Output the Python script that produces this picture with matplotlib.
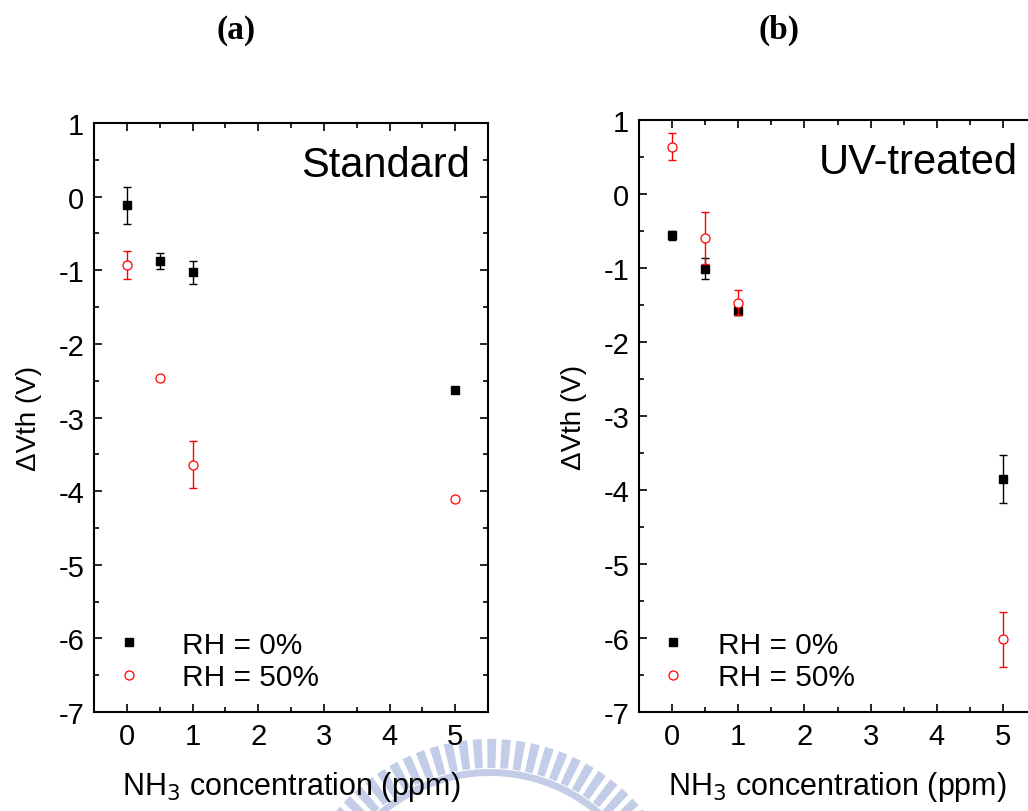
# NH3 濃度と ΔVth の関係 (Standard / UV-treated)

import numpy as np
import matplotlib
matplotlib.use("Agg")
import matplotlib.pyplot as plt
from matplotlib.patches import Wedge
from matplotlib.ticker import MultipleLocator

plt.rcParams['font.family'] = ['Liberation Sans', 'DejaVu Sans']
plt.rcParams['axes.unicode_minus'] = False

# データ
conc = [0, 0.5, 1, 5]                          # NH3 濃度 [ppm]

std_rh0 = [-0.12, -0.87, -1.03, -2.62]         # Standard, RH = 0%
std_rh0_err = [0.25, 0.11, 0.15, 0.04]
std_rh50 = [-0.93, -2.46, -3.64, -4.11]        # Standard, RH = 50%
std_rh50_err = [0.19, 0.03, 0.32, 0.02]

uv_rh0 = [-0.56, -1.01, -1.58, -3.85]          # UV-treated, RH = 0%
uv_rh0_err = [0.06, 0.14, 0.06, 0.32]
uv_rh50 = [0.64, -0.59, -1.47, -6.02]          # UV-treated, RH = 50%
uv_rh50_err = [0.18, 0.35, 0.17, 0.37]

panel_titles = ["(a)", "(b)"]
panel_names = ["Standard", "UV-treated"]
legend_labels = ["RH = 0%", "RH = 50%"]

W, H = 1028, 812


def draw_watermark(fig):
    """背景のすかし (薄い青の縞模様)"""
    wax = fig.add_axes([0, 0, 1, 1], zorder=-1)
    wax.set_xlim(0, W)
    wax.set_ylim(0, H)
    wax.axis("off")
    col = "#c3cde7"
    cx, cy = 490, H - 940
    for a in np.arange(0, 360, 4.2):
        wax.add_patch(Wedge((cx, cy), 200, a, a + 2.6, width=29, color=col, lw=0))
    wax.add_patch(Wedge((cx, cy), 170, 0, 360, width=7, color=col, lw=0))


def style_axes(ax):
    ax.set_xlim(-0.5, 5.5)
    ax.set_ylim(-7, 1)
    ax.xaxis.set_major_locator(MultipleLocator(1))
    ax.xaxis.set_minor_locator(MultipleLocator(0.5))
    ax.yaxis.set_major_locator(MultipleLocator(1))
    ax.yaxis.set_minor_locator(MultipleLocator(0.5))
    ax.tick_params(which="both", direction="in", top=True, right=True, width=1.2)
    ax.tick_params(which="major", length=6, labelsize=21, pad=7)
    ax.tick_params(which="minor", length=3.6)
    for s in ax.spines.values():
        s.set_linewidth(1.5)
    ax.set_xlabel("NH$_3$ concentration (ppm)", fontsize=22, labelpad=14)
    ax.set_ylabel("\u0394Vth (V)", fontsize=20, labelpad=12)


def plot_panel(ax, y0, e0, y50, e50):
    ax.errorbar(conc, y0, yerr=e0, fmt="none", ecolor="black",
                elinewidth=1, capsize=3.2, capthick=1)
    ax.plot(conc, y0, "s", color="black", ms=6, label=legend_labels[0])
    ax.errorbar(conc, y50, yerr=e50, fmt="none", ecolor="red",
                elinewidth=1, capsize=3.2, capthick=1)
    ax.plot(conc, y50, "o", mfc="white", mec="red", mew=0.9, ms=6.5,
            label=legend_labels[1])


def main():
    fig = plt.figure(figsize=(W / 100, H / 100), dpi=100)
    draw_watermark(fig)

    ax1 = fig.add_axes([94 / W, 0.1219, 394 / W, 589 / H])
    ax2 = fig.add_axes([639 / W, 0.1219, 397 / W, 592 / H])

    plot_panel(ax1, std_rh0, std_rh0_err, std_rh50, std_rh50_err)
    plot_panel(ax2, uv_rh0, uv_rh0_err, uv_rh50, uv_rh50_err)

    for ax, name, tpad, xa in [(ax1, panel_names[0], 1.27, 0.051),
                               (ax2, panel_names[1], 1.0, 0.048)]:
        style_axes(ax)
        ax.text(0.955, 0.91, name, transform=ax.transAxes, ha="right",
                va="baseline", fontsize=30)
        ax.legend(loc="lower left", bbox_to_anchor=(xa, 0.035), frameon=False,
                  fontsize=21.5, handlelength=1.0, handletextpad=tpad,
                  borderpad=0, borderaxespad=0, labelspacing=0.15, numpoints=1)

    # パネル記号
    for label, px in zip(panel_titles, [236, 779]):
        fig.text(px / W, 1 - 30 / H, label, ha="center", va="center",
                 fontsize=24, fontweight="bold", family="Liberation Serif")

    fig.savefig("out.png", dpi=100)


if __name__ == "__main__":
    main()
